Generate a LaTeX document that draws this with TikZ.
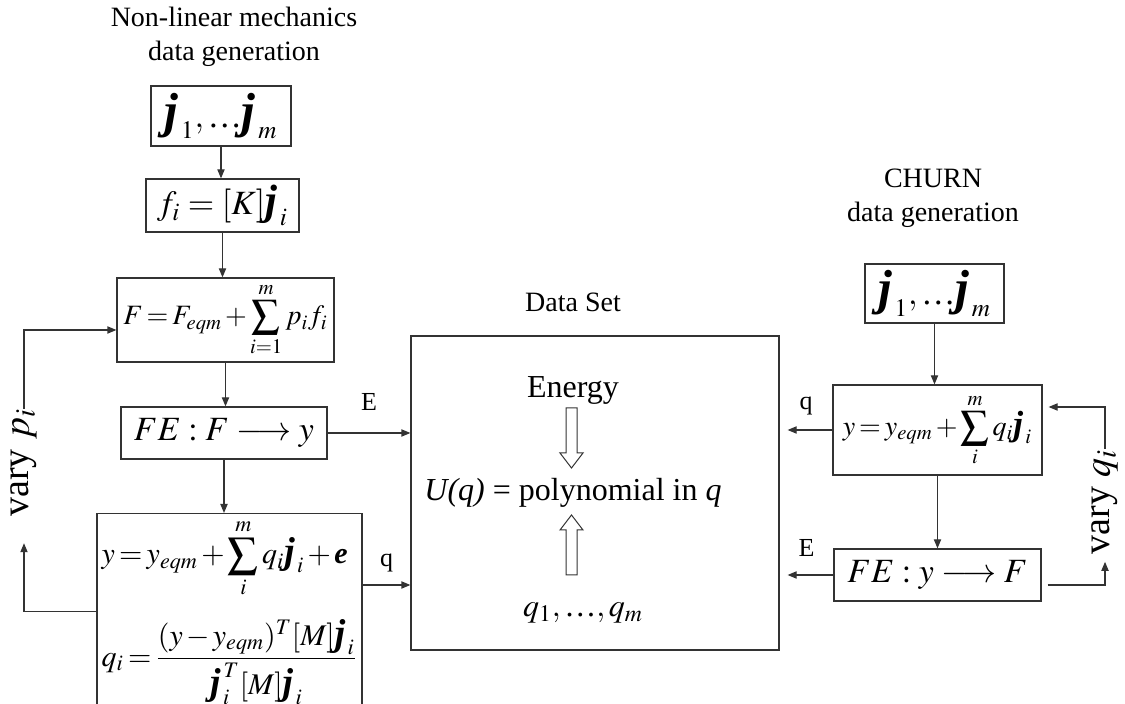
\documentclass[tikz,border=0pt]{standalone}
\usepackage{amsmath}
\usepackage{mathptmx}
\usepackage[no-math]{fontspec}
\setmainfont{Liberation Serif}
\usetikzlibrary{arrows.meta, positioning, calc}

\newcommand{\bj}{\scalebox{1.25}{\bfseries\itshape j}}
\newcommand{\bjbig}{\scalebox{1.45}{\bfseries\itshape j}}
\newcommand{\be}{\mbox{\bfseries\itshape e}}

\tikzset{
  box/.style={draw=black!80, line width=0.6pt, inner sep=0pt, font=\fontsize{17}{20}\selectfont},
  tight/.style={font=\fontsize{15}{18}\selectfont, execute at begin node={\thickmuskip=2.5mu\medmuskip=2mu}},
  arr/.style={draw=black!80, line width=0.6pt, -{Triangle[length=4.5pt, width=3.6pt]}},
  title/.style={align=center, font=\fontsize{14}{17}\selectfont},
  lbl/.style={font=\fontsize{13}{15}\selectfont, inner sep=1pt},
  vary/.style={rotate=90, font=\fontsize{19}{22}\selectfont, inner sep=0pt},
  hollow/.style={draw=black!80, line width=0.5pt, fill=white}
}

\begin{document}
\begin{tikzpicture}[x=0.5pt, y=-0.5pt]
  \useasboundingbox (0,0) rectangle (1125,704);

  % Non-linear mechanics column
  \node[title] (tl) at (234,37) {Non-linear mechanics\\data generation};
  \node[box, minimum width=70pt, minimum height=30pt] (jl) at (221,116) {$\bjbig_{\,1},\mbox{…}\bjbig_{\,m}$};
  \node[box, minimum width=76.5pt, minimum height=26.5pt] (fl) at (222.5,205.5) {$f_i = [K]\bj_{\,i}$};
  \node[box, tight, font=\fontsize{14}{17}\selectfont, minimum width=108.5pt, minimum height=42pt] (Fl) at (225.5,320) {$\displaystyle F = F_{eqm} + \sum_{i=1}^{m} p_i f_i$};
  \node[box, minimum width=103pt, minimum height=26pt] (FEl) at (224,433) {$FE : F \longrightarrow y$};
  \node[box, tight, anchor=north, minimum width=132.5pt, minimum height=98pt, align=left] (yl) at (229.5,513)
    {$\displaystyle y = y_{eqm} + \sum_{i}^{m} q_i\bj_{\,i} + \be$\\[10pt]
     $\displaystyle q_i = \frac{(y-y_{eqm})^T[M]\bj_{\,i}}{\bj_{\,i}^{\;T}[M]\bj_{\,i}}$};

  \draw[arr] (jl.south) -- (jl.south |- fl.north);
  \draw[arr] (fl.south) -- (fl.south |- Fl.north);
  \draw[arr] (Fl.south) -- (Fl.south |- FEl.north);
  \draw[arr] (FEl.south) -- (FEl.south |- yl.north);

  % vary p_i loop
  \node[vary] (vp) at (24,463) {vary $p_i$};
  \draw[arr, shorten >=13pt] (yl.west) -| (vp.west);
  \draw[arr] (vp.east) |- ([yshift=-5pt]Fl.west);

  % Data set
  \node[box, minimum width=184pt, minimum height=157pt] (ds) at (595,493) {};
  \node[title] (dsl) at (573,302) {Data Set};
  \node[font=\fontsize{16}{19}\selectfont] (en) at (573,390) {Energy};
  \node[font=\fontsize{16}{19}\selectfont] (U) at (573,493) {\textit{U(q)} = polynomial in \textit{q}};
  \node[font=\fontsize{16}{19}\selectfont] (qs) at (583,613) {$q_1,\mbox{…},q_m$};
  \foreach \ya/\yb/\yt in {408/453/468, 575/530/515}
    \draw[hollow] (566,\ya) -- (577,\ya) -- (577,\yb) -- (583,\yb) -- (571.5,\yt) -- (560,\yb) -- (566,\yb) -- cycle;

  \coordinate (qin) at ([yshift=-46pt]ds.west);
  \draw[arr] (FEl.east) -- (FEl.east -| ds.west) node[lbl, midway, above=10pt] {E};
  \draw[arr] (qin -| yl.east) -- (qin) node[lbl, midway, above=5pt] {q};

  % CHURN column
  \node[title] (tr) at (933,198) {CHURN\\data generation};
  \node[box, minimum width=69.5pt, minimum height=29.5pt] (jr) at (934.5,293.5) {$\bjbig_{\,1},\mbox{…}\bjbig_{\,m}$};
  \node[box, tight, font=\fontsize{14}{17}\selectfont, minimum width=104.5pt, minimum height=45pt] (yr) at (937.5,430) {$\displaystyle y = y_{eqm} + \sum_{i}^{m} q_i\bj_{\,i}$};
  \node[box, minimum width=103.5pt, minimum height=26pt] (FEr) at (937.5,575) {$FE : y \longrightarrow F$};

  \draw[arr] (jr.south) -- (jr.south |- yr.north);
  \draw[arr] (yr.south) -- (yr.south |- FEr.north);
  \draw[arr, shorten >=4pt] (yr.west) -- (yr.west -| ds.east) node[lbl, midway, above=6pt] {q};
  \draw[arr, shorten >=4pt] (FEr.west) -- (FEr.west -| ds.east) node[lbl, midway, above=8pt] {E};

  % vary q_i loop
  \node[vary] (vq) at (1105,502) {vary $q_i$};
  \draw[arr, shorten >=3.5pt] ([xshift=3pt,yshift=-5pt]FEr.east) -| (vq.west);
  \draw[arr, shorten >=3pt] (vq.east) |- ([yshift=11.5pt]yr.east);
\end{tikzpicture}
\end{document}
